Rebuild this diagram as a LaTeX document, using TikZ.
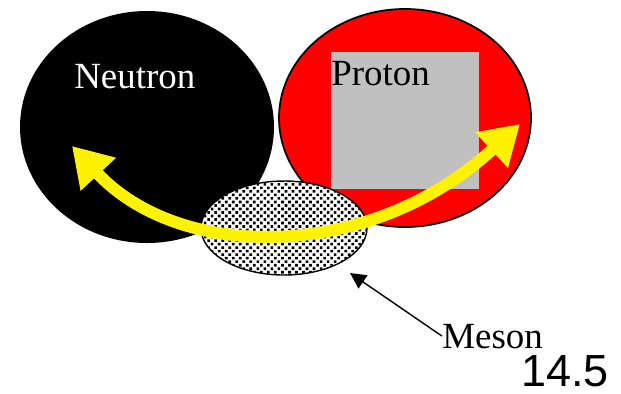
\documentclass[tikz,border=0pt]{standalone}
\usepackage{fontspec}
\setmainfont{Liberation Serif}
\setsansfont{Liberation Sans}
\usetikzlibrary{arrows.meta, patterns}

\pgfdeclarepatternformonly{mesondots}{\pgfqpoint{-0.5pt}{-0.5pt}}{\pgfqpoint{4.5pt}{4.5pt}}{\pgfqpoint{4pt}{4pt}}{%
    \pgfpathrectangle{\pgfqpoint{0pt}{0pt}}{\pgfqpoint{1.5pt}{1.5pt}}%
    \pgfpathrectangle{\pgfqpoint{2pt}{2pt}}{\pgfqpoint{1.5pt}{1.5pt}}%
    \pgfusepath{fill}}

\definecolor{protongray}{HTML}{C0C0C0}

\tikzset{
    particle text/.style = {font = \fontsize{21}{21}\selectfont, inner sep = 0pt, anchor = base west},
    exchange/.style = {draw = yellow, line width = 6.8pt,
        {Triangle[length = 22pt, width = 26pt]}-{Triangle[length = 22pt, width = 26pt]}},
    pointer/.style = {draw = black, line width = 0.8pt, -{Triangle[length = 9pt, width = 9pt]}}
}

\begin{document}
\begin{tikzpicture}[x = 0.02cm, y = -0.02cm]

            \useasboundingbox (0, 0) rectangle (621, 393);

            \fill[black] (147, 127) ellipse [x radius = 127, y radius = 116];
            \filldraw[fill = red, draw = black, line width = 1pt] (405, 118) ellipse [x radius = 126, y radius = 109];
            \fill[protongray] (331, 52) rectangle (479, 189);

            \node (neutron) at (74, 88) [particle text, text = white] {Neutron};
            \node (proton) at (331, 85) [particle text] {Proton};

            \draw[line width = 0.8pt, preaction = {fill = white}, pattern = mesondots] (284, 228) ellipse [x radius = 83, y radius = 47];

            \coordinate (ntip) at (72, 146);
            \coordinate (ptip) at (520, 124);
            \draw[exchange] (ntip) .. controls (180, 262) and (370, 262) .. (ptip);

            \node (mesonlabel) at (442, 348) [particle text] {Meson};
            \coordinate (mesontip) at (350, 273);
            \draw[pointer] (mesonlabel.west) -- (mesontip);

            \node (pagenum) at (521, 386) [font = \sffamily\fontsize{25.6}{25.6}\selectfont, inner sep = 0pt, anchor = base west] {14.5};
        \end{tikzpicture}
\end{document}
